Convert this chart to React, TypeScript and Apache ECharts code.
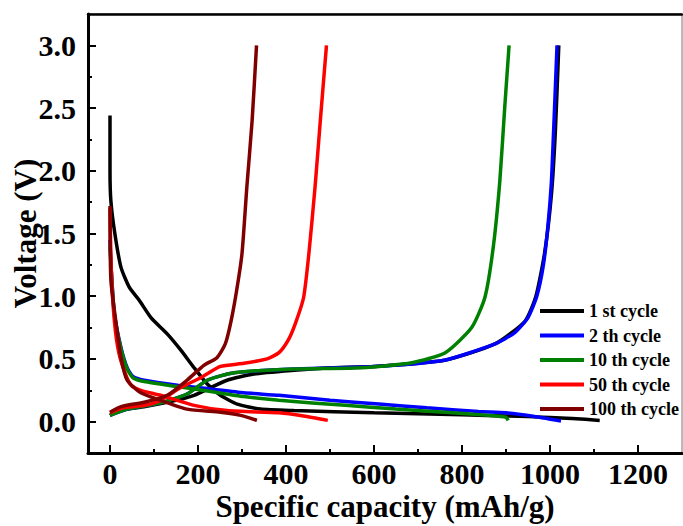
import React, { useEffect, useRef } from "react";
import * as echarts from "echarts";

const cycleNames = ["1 st cycle", "2 th cycle", "10 th cycle", "50 th cycle", "100 th cycle"];
const cycleColors = ["#000000", "#0000FF", "#008000", "#FF0000", "#800000"];

const xMajorTicks = [0, 200, 400, 600, 800, 1000, 1200];
const xMinorTicks = [100, 300, 500, 700, 900, 1100];
const yMajorTicks = [0, 0.5, 1.0, 1.5, 2.0, 2.5, 3.0];
const yMinorTicks = [0.25, 0.75, 1.25, 1.75, 2.25, 2.75];

// capacity (mAh/g), voltage (V)
const discharge1 = [[0, 2.44], [0, 2.0], [2, 1.76], [11, 1.5], [25, 1.23], [44, 1.07], [66, 0.97], [93, 0.83], [130, 0.7], [161, 0.57], [191, 0.43], [221, 0.3], [251, 0.21], [289, 0.14], [342, 0.1], [418, 0.088], [600, 0.07], [800, 0.055], [950, 0.04], [1050, 0.025], [1113, 0.01]];
const charge1 = [[0, 0.05], [20, 0.09], [80, 0.12], [150, 0.17], [191, 0.21], [266, 0.33], [327, 0.38], [418, 0.41], [500, 0.43], [600, 0.44], [760, 0.49], [875, 0.62], [943, 0.8], [968, 1.0], [988, 1.35], [1003, 1.8], [1012, 2.3], [1020, 3.0]];

const discharge2 = [[0, 1.45], [3, 1.2], [10, 0.86], [25, 0.59], [39, 0.43], [52, 0.36], [78, 0.33], [153, 0.29], [229, 0.26], [304, 0.23], [384, 0.21], [500, 0.17], [611, 0.14], [720, 0.11], [837, 0.08], [900, 0.07], [958, 0.045], [1025, 0.005]];
const charge2 = [[0, 0.05], [40, 0.1], [115, 0.15], [175, 0.22], [221, 0.33], [282, 0.39], [418, 0.42], [600, 0.44], [760, 0.49], [875, 0.62], [920, 0.71], [950, 0.83], [970, 1.0], [985, 1.25], [995, 1.55], [1003, 1.9], [1008, 2.3], [1012, 2.65], [1016, 3.0]];

const discharge10 = [[0, 1.4], [3, 1.2], [10, 0.85], [25, 0.58], [39, 0.42], [52, 0.35], [78, 0.32], [153, 0.28], [229, 0.24], [304, 0.2], [384, 0.17], [535, 0.13], [650, 0.1], [762, 0.075], [860, 0.05], [900, 0.035], [905, 0.01]];
const charge10 = [[0, 0.05], [39, 0.1], [115, 0.15], [175, 0.22], [221, 0.33], [282, 0.39], [418, 0.42], [572, 0.43], [686, 0.47], [762, 0.55], [822, 0.75], [852, 0.99], [871, 1.39], [886, 1.92], [897, 2.5], [907, 3.0]];

const discharge50 = [[0, 1.7], [3, 1.2], [10, 0.8], [20, 0.55], [35, 0.38], [48, 0.29], [70, 0.25], [115, 0.21], [191, 0.13], [266, 0.088], [384, 0.07], [440, 0.045], [495, 0.01]];
const charge50 = [[0, 0.07], [30, 0.11], [80, 0.13], [115, 0.17], [160, 0.27], [206, 0.35], [251, 0.44], [304, 0.465], [357, 0.5], [384, 0.55], [405, 0.65], [421, 0.78], [440, 0.99], [452, 1.34], [466, 1.87], [478, 2.4], [492, 3.0]];

const discharge100 = [[0, 1.72], [2, 1.13], [14, 0.78], [25, 0.51], [39, 0.33], [70, 0.23], [115, 0.17], [175, 0.1], [251, 0.075], [297, 0.05], [334, 0.01]];
const charge100 = [[0, 0.075], [25, 0.12], [78, 0.155], [130, 0.21], [175, 0.33], [214, 0.45], [243, 0.51], [262, 0.62], [275, 0.8], [288, 1.05], [300, 1.34], [311, 1.87], [323, 2.4], [333, 3.0]];

const dischargeData = [discharge1, discharge2, discharge10, discharge50, discharge100];
const chargeData = [charge1, charge2, charge10, charge50, charge100];

const FONT = "Liberation Serif";

export default function App() {
  const ref = useRef<HTMLDivElement>(null);
  useEffect(() => {
    if (!ref.current) return;
    const chart = echarts.init(ref.current, undefined, { renderer: "svg" });
    const series: any[] = [];
    cycleNames.forEach((name, i) => {
      [dischargeData[i], chargeData[i]].forEach((d) => {
        series.push({
          type: "line",
          name,
          data: d,
          xAxisIndex: 0,
          yAxisIndex: 0,
          showSymbol: false,
          smooth: 0.2,
          lineStyle: { color: cycleColors[i], width: 3.5 },
          itemStyle: { color: cycleColors[i] },
          z: 10 + i,
        });
      });
    });
    const common = { min: -50, max: 1300, type: "value" as const };
    const commonY = { min: -0.25, max: 3.25, type: "value" as const };
    chart.setOption({
      animation: false,
      grid: {
        left: 88,
        top: 14,
        right: 1,
        bottom: 73,
        show: true,
        borderColor: "#777",
        borderWidth: 1,
        containLabel: false,
        outerBoundsMode: "none",
      },
      legend: {
        orient: "vertical",
        left: 535,
        top: 297,
        itemWidth: 44,
        itemHeight: 4,
        itemGap: 6.5,
        icon: "rect",
        data: cycleNames,
        textStyle: { fontFamily: FONT, fontWeight: "bold", fontSize: 18, color: "#000", lineHeight: 18 },
      },
      xAxis: [
        {
          ...common,
          position: "bottom",
          name: "Specific capacity (mAh/g)",
          nameLocation: "middle",
          nameGap: 38,
          nameMoveOverlap: false,
          nameTextStyle: { fontFamily: FONT, fontWeight: "bold", fontSize: 31, color: "#000" },
          axisLine: { show: true, onZero: false, lineStyle: { color: "#000", width: 3 } },
          axisTick: { show: true, inside: true, length: 8, lineStyle: { color: "#000", width: 2 }, customValues: xMajorTicks },
          axisLabel: {
            show: true,
            customValues: xMajorTicks,
            margin: 5,
            fontFamily: FONT,
            fontWeight: "bold",
            fontSize: 30,
            color: "#000",
            formatter: (v: number) => String(v),
          },
          splitLine: { show: false },
        },
        {
          ...common,
          position: "bottom",
          axisLine: { show: false, onZero: false },
          axisTick: { show: true, inside: true, length: 4, lineStyle: { color: "#000", width: 2 }, customValues: xMinorTicks },
          axisLabel: { show: false },
          splitLine: { show: false },
        },
        {
          ...common,
          position: "top",
          axisLine: { show: true, onZero: false, lineStyle: { color: "#000", width: 2.5 } },
          axisTick: { show: false },
          axisLabel: { show: false },
          splitLine: { show: false },
        },
      ],
      yAxis: [
        {
          ...commonY,
          position: "left",
          name: "Voltage (V)",
          nameLocation: "middle",
          nameGap: 47,
          nameMoveOverlap: false,
          nameTextStyle: { fontFamily: FONT, fontWeight: "bold", fontSize: 31, color: "#000" },
          axisLine: { show: true, onZero: false, lineStyle: { color: "#000", width: 3 } },
          axisTick: { show: true, inside: true, length: 8, lineStyle: { color: "#000", width: 2 }, customValues: yMajorTicks },
          axisLabel: {
            show: true,
            customValues: yMajorTicks,
            margin: 12,
            fontFamily: FONT,
            fontWeight: "bold",
            fontSize: 30,
            color: "#000",
            formatter: (v: number) => v.toFixed(1),
          },
          splitLine: { show: false },
        },
        {
          ...commonY,
          position: "left",
          axisLine: { show: false, onZero: false },
          axisTick: { show: true, inside: true, length: 4, lineStyle: { color: "#000", width: 2 }, customValues: yMinorTicks },
          axisLabel: { show: false },
          splitLine: { show: false },
        },
      ],
      series,
    });
    return () => chart.dispose();
  }, []);
  return <div ref={ref} style={{ position: "fixed", left: 0, top: 0, width: 683, height: 526, background: "#fff" }} />;
}
